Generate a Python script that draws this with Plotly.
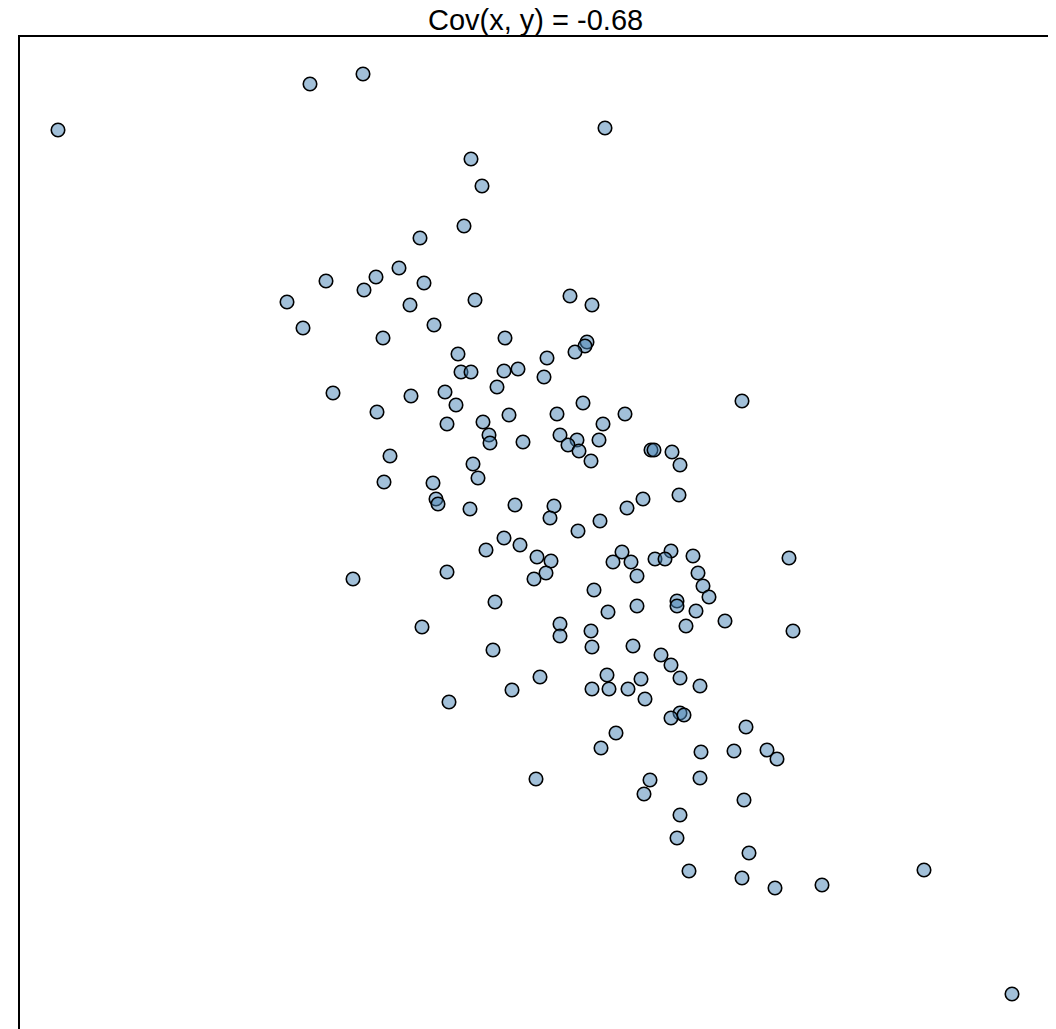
import plotly.graph_objects as go

# Values (arbitrary units)
x_vals = [363, 310, 58, 605, 471, 482, 464, 420, 399, 326,
          376, 424, 364, 287, 410, 475, 570, 592, 303, 434,
          383, 505, 587, 585, 575, 547, 458, 461, 471, 504,
          518, 544, 497, 333, 411, 445, 742, 456, 377, 583,
          509, 557, 625, 447, 483, 603, 489, 490, 560, 523,
          577, 568, 599, 579, 651, 654, 672, 390, 591, 680,
          473, 478, 384, 433, 436, 438, 470, 515, 554, 550,
          679, 643, 627, 600, 578, 504, 520, 486, 537, 551,
          622, 613, 631, 671, 655, 665, 693, 789, 353, 447,
          546, 534, 637, 698, 703, 709, 594, 495, 637, 608,
          677, 677, 696, 422, 560, 725, 560, 591, 686, 793,
          633, 493, 592, 661, 671, 607, 540, 680, 641, 512,
          592, 609, 628, 700, 449, 645, 680, 671, 684, 746,
          616, 601, 701, 734, 767, 777, 536, 650, 700, 644,
          744, 680, 677, 749, 689, 742, 775, 822, 924, 1012]

y_vals = [926, 916, 870, 872, 841, 814, 774, 762, 732, 719,
          723, 717, 710, 698, 695, 700, 704, 695, 672, 675,
          662, 662, 658, 654, 648, 642, 646, 628, 628, 629,
          631, 623, 613, 607, 604, 608, 599, 595, 588, 597,
          585, 586, 586, 576, 578, 576, 565, 557, 565, 558,
          560, 555, 560, 549, 550, 550, 548, 544, 539, 535,
          536, 522, 518, 517, 501, 496, 491, 495, 494, 482,
          505, 501, 492, 479, 469, 462, 455, 450, 443, 439,
          448, 438, 438, 449, 441, 441, 444, 442, 421, 428,
          427, 421, 424, 427, 414, 403, 410, 398, 394, 388,
          399, 394, 389, 373, 376, 379, 364, 369, 374, 369,
          354, 350, 353, 345, 335, 325, 323, 322, 321, 310,
          311, 311, 311, 314, 298, 301, 287, 282, 285, 273,
          267, 252, 248, 249, 250, 241, 221, 220, 222, 206,
          200, 185, 162, 147, 129, 122, 112, 115, 130, 6]

title_text = "Cov(x, y) = -0.68"

fig = go.Figure()
fig.add_trace(go.Scatter(
    x=x_vals, y=y_vals, mode="markers",
    marker=dict(size=13.5, color="rgba(70,130,180,0.5)",
                line=dict(color="black", width=1.6)),
    hoverinfo="skip", showlegend=False,
))

fig.update_layout(
    width=1048, height=1021,
    margin=dict(l=12, r=6, t=29, b=0),
    paper_bgcolor="white", plot_bgcolor="white",
    font=dict(family="Liberation Sans, Arial, sans-serif", color="black"),
    xaxis=dict(range=[20, 1050], showgrid=False, zeroline=False,
               showticklabels=False, ticks="", showline=True,
               linecolor="black", linewidth=1.5, side="top", mirror=False),
    yaxis=dict(range=[-29, 963], showgrid=False, zeroline=False,
               showticklabels=False, ticks="", showline=True,
               linecolor="black", linewidth=1.5, mirror=True),
    annotations=[dict(text=title_text, x=0.5, xref="paper", y=1, yref="paper",
                      xanchor="center", yanchor="bottom", showarrow=False,
                      yshift=-1, font=dict(size=29, color="black"))],
)

fig.write_html("out.html")
